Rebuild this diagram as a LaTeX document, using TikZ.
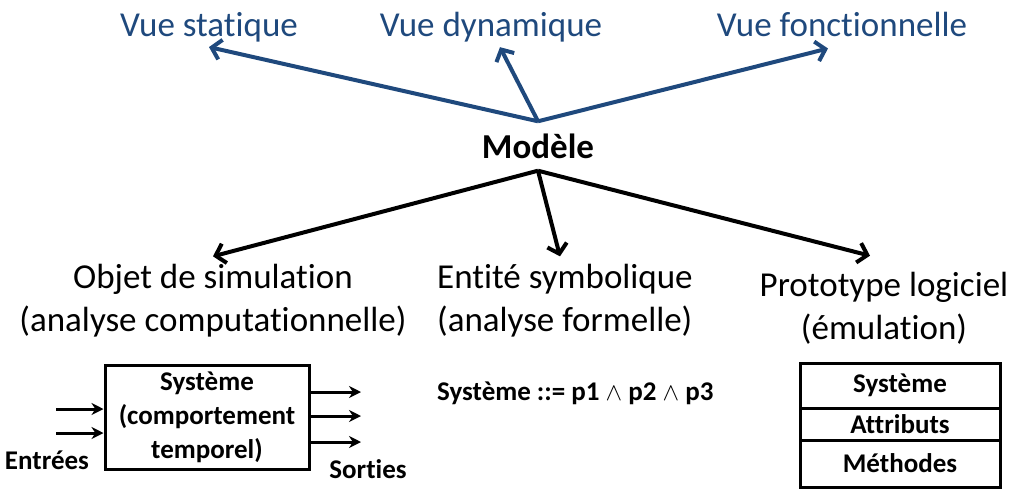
\documentclass[tikz,border=0pt]{standalone}
\usepackage{fontspec}
\setmainfont{Carlito}[Ligatures={NoCommon}]
\usetikzlibrary{arrows.meta}
\definecolor{vueblue}{HTML}{1F497D}
\tikzset{
	bigtext/.style={inner sep=0pt, font=\fontsize{35}{43}\selectfont, align=center},
	smalltext/.style={inner sep=0pt, font=\bfseries\fontsize{27}{34}\selectfont, align=center},
	vuearrow/.style={draw=vueblue, line width=4pt, -{Straight Barb[length=9pt,width=20pt]}},
	modarrow/.style={draw=black, line width=4pt, -{Straight Barb[length=9pt,width=20pt]}},
	ioarrow/.style={draw=black, line width=3pt, -{Stealth[length=12pt,width=12pt]}},
	boxpart/.style={draw, line width=3pt, minimum width=200pt, inner sep=0pt, font=\bfseries\fontsize{27}{34}\selectfont}
}

\begin{document}
\begin{tikzpicture}[x=1pt, y=-1pt]
		%%%%% START %%%%%
		\useasboundingbox (0, 0) rectangle (1023, 488);
		
		% vues
		\node[bigtext, text=vueblue] (statique) at (209, 27) {Vue statique};
		\node[bigtext, text=vueblue] (dynamique) at (491, 27) {Vue dynamique};
		\node[bigtext, text=vueblue] (fonction) at (842, 24) {Vue fonctionnelle};
		
		% modele
		\node[inner sep=0pt, minimum height=49pt, font=\bfseries\fontsize{35}{43}\selectfont] (modele) at (538, 146) {Modèle};
		
		\draw[vuearrow] (modele.north) -- ([yshift=-5pt]statique.south);
		\draw[vuearrow] (modele.north) -- ([xshift=9pt, yshift=-5pt]dynamique.south);
		\draw[vuearrow] (modele.north) -- ([xshift=-14pt, yshift=-12pt]fonction.south);
		
		% formes du modele
		\node[bigtext] (objet) at (213, 301) {Objet de simulation\\(analyse computationnelle)};
		\node[bigtext, align=left, anchor=west] (entite) at (437, 301) {Entité symbolique\\(analyse formelle)};
		\node[bigtext] (prototype) at (884, 308) {Prototype logiciel\\(émulation)};
		
		\draw[modarrow] (modele.south) -- ([yshift=8pt]objet.north);
		\draw[modarrow] (modele.south) -- ([xshift=-5pt, yshift=8pt]entite.north);
		\draw[modarrow] (modele.south) -- ([xshift=-14pt, yshift=16pt]prototype.north);
		
		% objet de simulation
		\node[smalltext, draw, line width=3pt, minimum width=204pt, minimum height=104pt] (systeme) at (207, 417) {Système\\(comportement\\temporel)};
		\coordinate (in1) at (56, 409);
		\coordinate (in2) at (56, 433);
		\draw[ioarrow] (in1) -- (in1 -| systeme.west);
		\draw[ioarrow] (in2) -- (in2 -| systeme.west);
		\coordinate (out1) at (361, 392);
		\coordinate (out2) at (361, 416);
		\coordinate (out3) at (361, 442);
		\draw[ioarrow] (out1 -| systeme.east) -- (out1);
		\draw[ioarrow] (out2 -| systeme.east) -- (out2);
		\draw[ioarrow] (out3 -| systeme.east) -- (out3);
		\node[smalltext] (entrees) at (47, 460) {Entrées};
		\node[smalltext] (sorties) at (368, 469) {Sorties};
		
		% entite symbolique
		\node[smalltext, anchor=west] (formule) at (437, 393) {Système ::= p1 $\wedge$ p2 $\wedge$ p3};
		
		% prototype logiciel
		\node[boxpart, minimum height=45pt] (classe) at (900, 385.5) {Système};
		\node[boxpart, minimum height=32pt] (attributs) at (900, 424) {Attributs};
		\node[boxpart, minimum height=47pt] (methodes) at (900, 463.5) {Méthodes};
		
		%%%%% END %%%%%
	\end{tikzpicture}
\end{document}
